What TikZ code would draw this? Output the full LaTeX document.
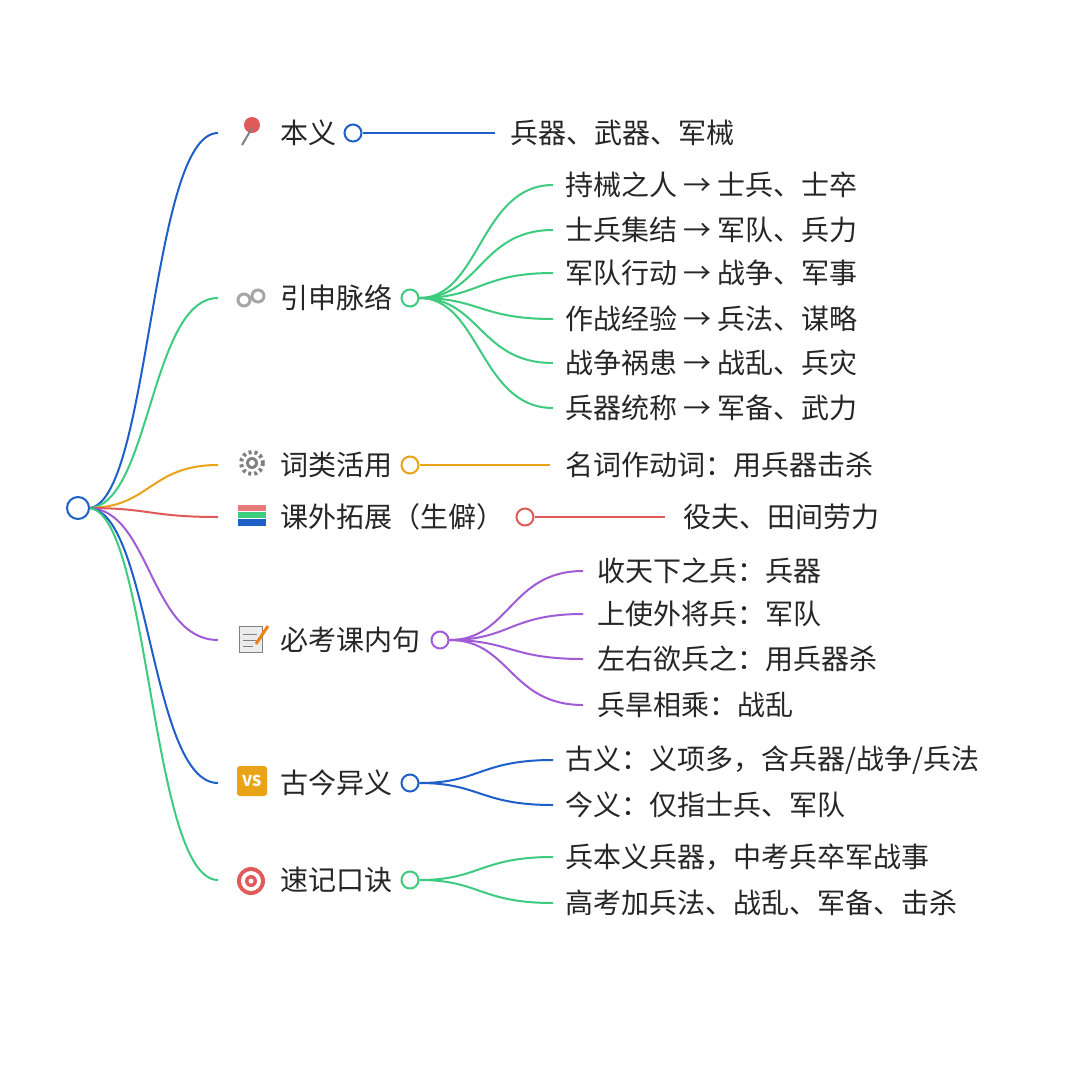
\documentclass[tikz,border=0pt]{standalone}
\usepackage{fontspec}
\setmainfont{Noto Sans CJK SC}
\begin{document}
\begin{tikzpicture}[x=1pt,y=-1pt,
 t/.style={anchor=west,inner sep=0pt,font=\fontsize{28}{30}\selectfont,text=black!85},
 dot/.style={circle,draw=#1,line width=2pt,fill=white,minimum size=17pt,inner sep=0pt},
 br/.style={line width=2pt,draw=#1}]
\definecolor{cb}{HTML}{1F5FC8}\definecolor{cg}{HTML}{3DCB7E}\definecolor{co}{HTML}{E8A317}
\definecolor{cr}{HTML}{E05A5A}\definecolor{cp}{HTML}{A05CD6}
\useasboundingbox (0,0) rectangle (1080,1080);
\fill[white] (0,0) rectangle (1080,1080);
\coordinate (r) at (88,508);
% main branches
\foreach \y/\c in {133/cb,298/cg,465/co,517/cr,640/cp,783/cb,880/cg}
  \draw[br=\c] (r) .. controls (150,508) and (150,\y) .. (218,\y);
\node[dot=cb,minimum size=22pt] (root) at (78,508) {};
% icons
\fill[cr] (252,125) circle (8); \draw[gray,line width=2pt] (252,128)--(242,145);
\draw[gray!70,line width=3pt] (244,300) circle (6) (258,296) circle (6);
\draw[gray,line width=4pt,dash pattern=on 3pt off 3pt] (252,463) circle (11); \fill[gray] (252,463) circle (6); \fill[white] (252,463) circle (3);
\fill[cr!80] (238,505) rectangle (266,511); \fill[cg] (238,512) rectangle (266,518); \fill[cb] (238,519) rectangle (266,526);
\fill[gray!15,draw=gray] (239,626) rectangle (262,652); \draw[gray] (243,634)--(257,634) (243,640)--(257,640) (243,646)--(253,646);
\draw[co!80!red,line width=3pt] (256,644)--(268,626);
\node[fill=co,rounded corners=3pt,minimum size=30pt,inner sep=0pt,text=white,font=\bfseries\fontsize{15}{15}\selectfont] (vs) at (252,781) {VS};
\foreach \r/\c in {14/cr,10/white,6/cr,2.5/white} \fill[\c] (251,881) circle (\r);
% 本义
\node[t] (a) at (280,133) {本义};
\node[dot=cb] (ad) at (353,133) {};
\node[t] (a1) at (510,133) {兵器、武器、军械};
\draw[br=cb] (ad) -- (495,133);
% 引申
\node[t] (b) at (280,298) {引申脉络};
\node[dot=cg] (bd) at (410,298) {};
\foreach \y/\s in {185/持械之人 → 士兵、士卒,230/士兵集结 → 军队、兵力,273/军队行动 → 战争、军事,319/作战经验 → 兵法、谋略,363/战争祸患 → 战乱、兵灾,408/兵器统称 → 军备、武力}{
  \node[t] at (565,\y) {\s};
  \draw[br=cg] (bd.east) .. controls (480,298) and (480,\y) .. (553,\y);}
% 词类
\node[t] (c) at (280,465) {词类活用};
\node[dot=co] (cd) at (410,465) {};
\node[t] (c1) at (565,465) {名词作动词：用兵器击杀};
\draw[br=co] (cd) -- (550,465);
% 课外
\node[t] (d) at (280,517) {课外拓展（生僻）};
\node[dot=cr] (dd) at (525,517) {};
\node[t] (d1) at (683,517) {役夫、田间劳力};
\draw[br=cr] (dd) -- (665,517);
% 必考
\node[t] (e) at (280,640) {必考课内句};
\node[dot=cp] (ed) at (440,640) {};
\foreach \y/\s in {571/收天下之兵：兵器,614/上使外将兵：军队,659/左右欲兵之：用兵器杀,705/兵旱相乘：战乱}{
  \node[t] at (597,\y) {\s};
  \draw[br=cp] (ed.east) .. controls (510,640) and (510,\y) .. (583,\y);}
% 古今
\node[t] (f) at (280,783) {古今异义};
\node[dot=cb] (fd) at (410,783) {};
\foreach \y/\s in {760/{古义：义项多，含兵器/战争/兵法},805/{今义：仅指士兵、军队}}{
  \node[t] at (565,\y) {\s};
  \draw[br=cb] (fd.east) .. controls (480,783) and (480,\y) .. (553,\y);}
% 速记
\node[t] (g) at (280,880) {速记口诀};
\node[dot=cg] (gd) at (410,880) {};
\foreach \y/\s in {857/兵本义兵器，中考兵卒军战事,903/高考加兵法、战乱、军备、击杀}{
  \node[t] at (565,\y) {\s};
  \draw[br=cg] (gd.east) .. controls (480,880) and (480,\y) .. (553,\y);}
\end{tikzpicture}
\end{document}
